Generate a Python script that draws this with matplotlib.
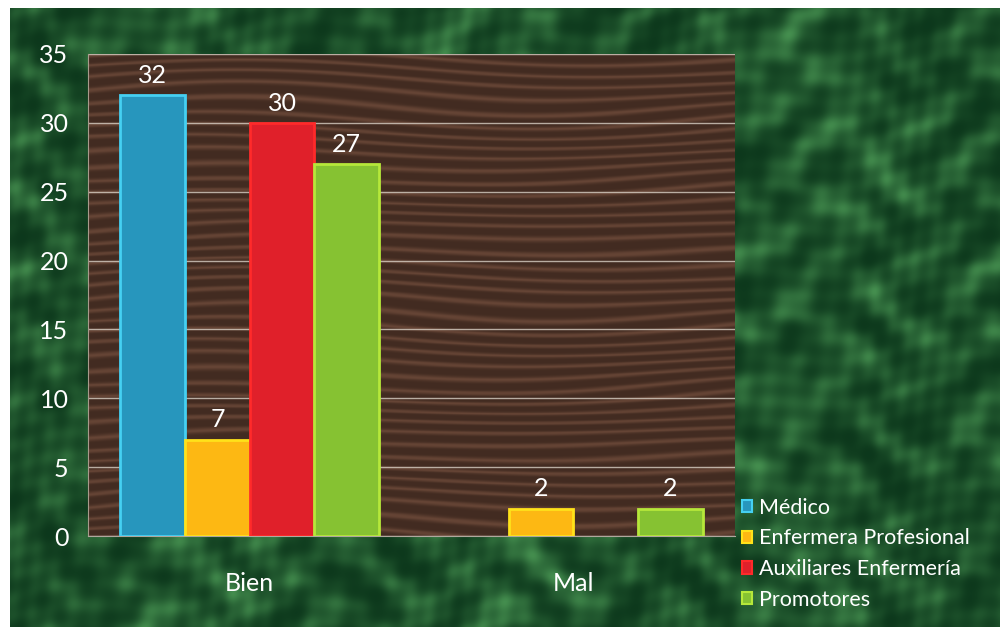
#!/usr/bin/env python3
"""Bien / Mal por perfil - gráfico de barras"""
import matplotlib.pyplot as plt
import matplotlib.patches as mpatches
import numpy as np

plt.rcParams['font.family'] = ['Lato', 'DejaVu Sans']

# datos
categorias = ['Bien', 'Mal']
series = ['Médico', 'Enfermera Profesional', 'Auxiliares Enfermería', 'Promotores']
medico = [32, 0]
enfermera = [7, 2]
auxiliares = [30, 0]
promotores = [27, 2]

colores = ['#2796bd', '#fdb813', '#e0202a', '#86c232']
bordes = ['#45d0f2', '#ffe21a', '#ff2a2a', '#b6e83a']

fig = plt.figure(figsize=(10, 6.27), dpi=100, facecolor='white')

# fondo verde (mármol aproximado)
bg = fig.add_axes([0.01, 0, 0.99, 0.987], zorder=0)
yy, xx = np.mgrid[0:400, 0:640]
tex = (np.sin(xx / 9.0 + np.sin(yy / 13.0) * 2.5) + np.sin(yy / 7.0 + np.cos(xx / 17.0) * 3.0)
       + 0.8 * np.sin((xx + yy) / 4.0 + np.sin(xx / 23.0) * 2) * np.cos((xx - yy) / 5.0)
       + 0.7 * np.sin(xx / 31.0 + yy / 19.0 + np.cos(yy / 41.0) * 4))
tex = (tex - tex.min()) / (tex.max() - tex.min())
tex = tex ** 1.8
verde = np.zeros((400, 640, 3))
verde[..., 0] = 0.05 + 0.22 * tex
verde[..., 1] = 0.22 + 0.34 * tex
verde[..., 2] = 0.11 + 0.20 * tex
bg.imshow(verde, aspect='auto', interpolation='bilinear')
bg.axis('off')

ax = fig.add_axes([0.088, 0.145, 0.647, 0.769], zorder=1)

# fondo madera
wy, wx = np.mgrid[0:400, 0:600]
grain = np.sin(wy / 1.6 + 3.0 * np.sin(wx / 90.0) + 2.0 * np.sin(wy / 30.0 + wx / 140.0)
               + 1.2 * np.sin(wy / 9.0 - wx / 200.0)) * 0.5 + 0.5
grain = grain ** 3
madera = np.zeros((400, 600, 3))
madera[..., 0] = 0.26 + 0.14 * grain
madera[..., 1] = 0.17 + 0.10 * grain
madera[..., 2] = 0.13 + 0.08 * grain
ax.imshow(madera, extent=(-0.5, 1.5, 0, 35), aspect='auto', zorder=0)

x = np.arange(len(categorias))
ancho = 0.2
valores = [medico, enfermera, auxiliares, promotores]
for i, (vals, c, b, nombre) in enumerate(zip(valores, colores, bordes, series)):
    vals = np.array(vals)
    pos = x + (i - 1.5) * ancho
    hay = vals > 0
    ax.bar(pos[hay], vals[hay], ancho, color=c, edgecolor=b, linewidth=2,
           label=nombre, zorder=3)
    for p, v in zip(pos[hay], vals[hay]):
        ax.text(p, v + 0.6, str(v), ha='center', va='bottom',
                color='white', fontsize=18, zorder=4)

ax.set_xlim(-0.5, 1.5)
ax.set_ylim(0, 35)
ax.set_yticks(np.arange(0, 36, 5))
ax.set_xticks(x)
ax.set_xticklabels(categorias)
ax.tick_params(axis='both', colors='white', labelsize=18, length=0)
ax.tick_params(axis='x', pad=26, labelsize=18)
ax.tick_params(axis='y', pad=14)
ax.grid(axis='y', color='#d8cfc4', linewidth=1, alpha=0.8, zorder=1)
for s in ['top', 'right']:
    ax.spines[s].set_visible(False)
ax.spines['left'].set_color('#a89a8c')
ax.spines['bottom'].set_color('#b0a89e')

handles = [mpatches.Patch(facecolor=c, edgecolor=b, linewidth=1.5) for c, b in zip(colores, bordes)]
leg = fig.legend(handles, series, loc='upper left', bbox_to_anchor=(0.733, 0.22),
                 frameon=False, fontsize=15.5, labelcolor='white',
                 handlelength=0.5, handleheight=0.5, handletextpad=0.3,
                 labelspacing=0.5, borderaxespad=0)

plt.savefig('out.png', dpi=100, facecolor='white')
plt.close()
